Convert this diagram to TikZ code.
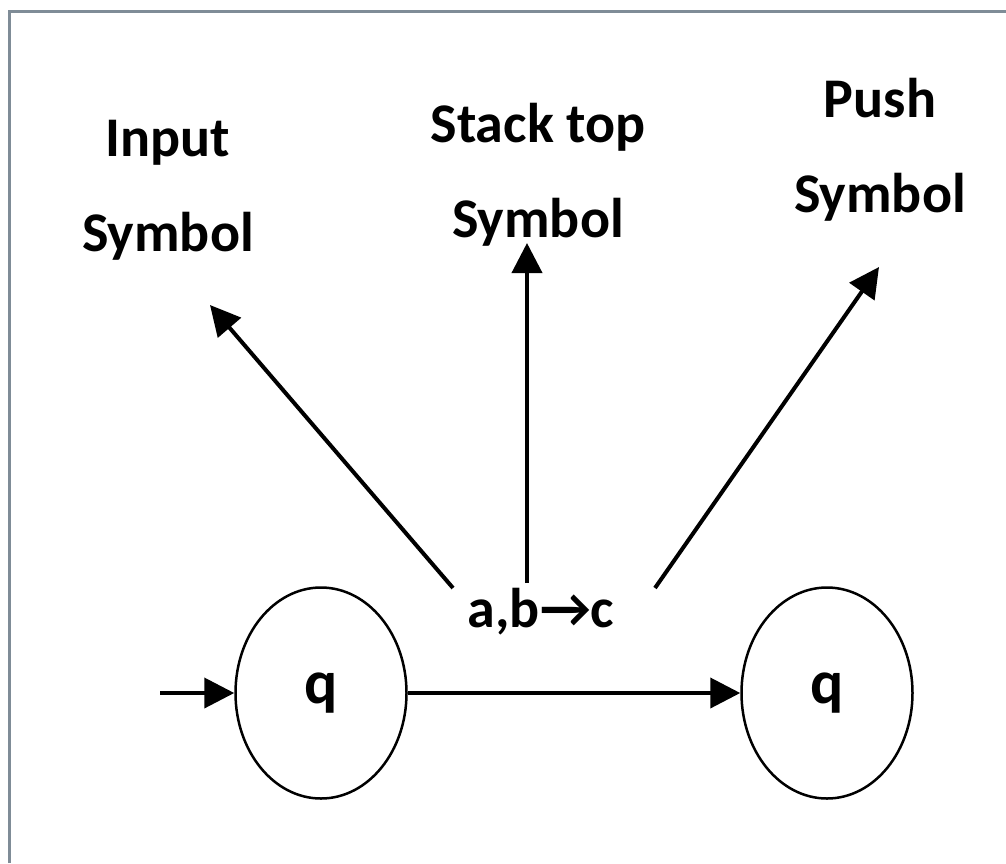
\documentclass[tikz,border=0pt]{standalone}
\usepackage{fontspec}
\setmainfont{Carlito}
\usetikzlibrary{arrows.meta,shapes.geometric}
\definecolor{framegray}{HTML}{7F8C97}
\begin{document}
\begin{tikzpicture}[x=1pt,y=-1pt,
  lbltext/.style={font=\fontsize{56}{95}\selectfont\bfseries, align=center, inner sep=0pt},
  qstate/.style={draw, ellipse, line width=2.5pt, minimum width=171pt, minimum height=211pt,
    inner sep=0pt, font=\fontsize{62}{62}\selectfont\bfseries},
  pointer/.style={-{Triangle[length=30pt,width=30pt]}, line width=4pt}]

  \useasboundingbox (0,0) rectangle (1006,863);

  % Frame (only top and left edge show)
  \draw[line width=3pt, framegray] (9,863) -- (9,11) -- (1006,11);

  % States
  \node[qstate] (q1) at (321,693) {q};
  \node[qstate] (q2) at (827,693) {q};

  % Start arrow and transition
  \coordinate (start) at (160,693);
  \draw[pointer] (start) -- (q1);
  \draw[pointer] (q1) -- (q2);

  % Transition label
  \node[lbltext] (lbl) at (541,612) {a,b→c};

  % Parts of the label
  \node[lbltext] (inp) at (168,190) {Input\\Symbol};
  \node[lbltext] (stk) at (538,175) {Stack top\\Symbol};
  \node[lbltext] (psh) at (880,150) {Push\\Symbol};

  % Arrows from the label up to its parts
  \coordinate (inTail) at (453,588);
  \coordinate (inTip) at (210,305);
  \coordinate (stkTail) at (527,583);
  \coordinate (stkTip) at (527,243);
  \coordinate (pshTail) at (655,588);
  \coordinate (pshTip) at (879,267);
  \draw[pointer] (inTail) -- (inTip);
  \draw[pointer] (stkTail) -- (stkTip);
  \draw[pointer] (pshTail) -- (pshTip);
\end{tikzpicture}
\end{document}
